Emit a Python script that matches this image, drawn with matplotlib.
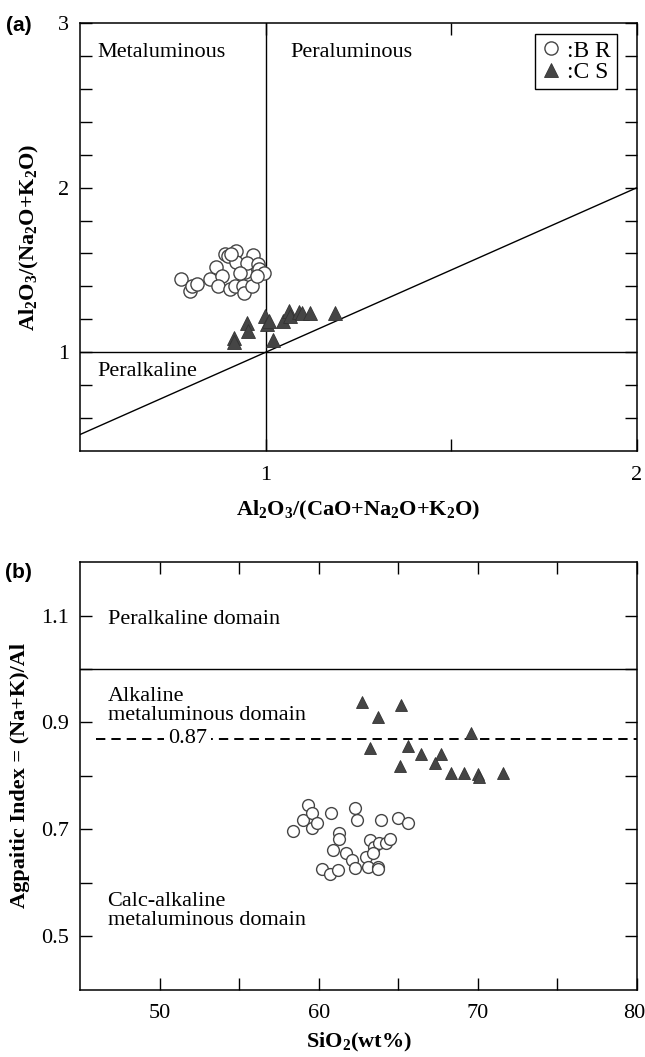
import numpy as np
import matplotlib
matplotlib.use("Agg")
import matplotlib.pyplot as plt
from matplotlib.ticker import FixedLocator
from matplotlib.transforms import ScaledTranslation

plt.rcParams["font.family"] = "Liberation Serif"
plt.rcParams["mathtext.fontset"] = "custom"
plt.rcParams["mathtext.rm"] = "Liberation Serif"
plt.rcParams["mathtext.bf"] = "Liberation Serif:bold"

# ------------------------------------------------------------
# (a) A/CNK vs A/NK
# ------------------------------------------------------------
br_acnk = [0.771, 0.796, 0.801, 0.814, 0.850, 0.866, 0.882, 0.872, 0.891, 0.899,
           0.920, 0.920, 0.904, 0.917, 0.940, 0.942, 0.962, 0.965, 0.944, 0.949,
           0.980, 0.983, 0.996, 0.976, 0.908, 0.931]
br_ank = [1.443, 1.372, 1.403, 1.413, 1.443, 1.515, 1.464, 1.403, 1.595, 1.585,
          1.615, 1.551, 1.383, 1.403, 1.403, 1.363, 1.403, 1.589, 1.488, 1.545,
          1.535, 1.504, 1.484, 1.464, 1.595, 1.484]

cs_acnk = [0.916, 0.916, 0.949, 0.953, 0.998, 1.003, 1.019, 1.046, 1.064, 1.066,
           1.091, 1.097, 1.119, 1.187, 1.010]
cs_ank = [1.089, 1.063, 1.176, 1.129, 1.221, 1.170, 1.075, 1.190, 1.251, 1.221,
          1.245, 1.241, 1.241, 1.241, 1.190]

# ------------------------------------------------------------
# (b) SiO2 vs agpaitic index
# ------------------------------------------------------------
br_sio2 = [58.4, 59.0, 59.3, 59.6, 59.6, 59.9, 60.8, 61.3, 61.3, 60.9,
           61.7, 62.1, 62.3, 60.2, 60.7, 61.2, 62.3, 62.4, 63.2, 63.0,
           63.1, 63.5, 63.8, 64.2, 64.5, 63.7, 63.9, 65.0, 65.6, 63.4, 63.7]
br_ai = [0.698, 0.718, 0.745, 0.731, 0.703, 0.713, 0.730, 0.694, 0.683, 0.662,
         0.656, 0.643, 0.628, 0.626, 0.617, 0.625, 0.741, 0.717, 0.680, 0.649,
         0.630, 0.667, 0.674, 0.674, 0.683, 0.630, 0.718, 0.721, 0.712, 0.656, 0.627]

cs_sio2 = [62.7, 63.7, 65.2, 69.6, 63.2, 65.6, 66.4, 67.7, 65.1, 67.3,
           68.3, 69.1, 70.0, 70.1, 71.6]
cs_ai = [0.938, 0.910, 0.933, 0.881, 0.852, 0.856, 0.842, 0.842, 0.819, 0.824,
         0.805, 0.805, 0.804, 0.799, 0.805]

ai_limit = 0.87

fs = 16
dark = "#454545"
circ = dict(ls="none", marker="o", mfc="white", mec=dark, mew=1.0)
tri = dict(ls="none", marker="^", mfc=dark, mec="#333333", mew=0.6)

fig = plt.figure(figsize=(6.45, 10.57), dpi=100)
ax1 = fig.add_axes([0.124, 0.5733, 0.8636, 0.4049])
ax2 = fig.add_axes([0.124, 0.0634, 0.8636, 0.4049])

for ax in (ax1, ax2):
    for s in ax.spines.values():
        s.set_linewidth(1.1)
    ax.tick_params(which="both", direction="in", length=8.5, width=1.0,
                   top=True, right=True, labelsize=fs, pad=8)

# ---------------- panel a ----------------
ax1.set_xlim(0.5, 2.0)
ax1.set_ylim(0.4, 3.0)
ax1.xaxis.set_major_locator(FixedLocator([1, 2]))
ax1.xaxis.set_minor_locator(FixedLocator([1.5]))
ax1.yaxis.set_major_locator(FixedLocator([1, 2, 3]))
ax1.yaxis.set_minor_locator(FixedLocator(
    [0.6, 0.8, 1.2, 1.4, 1.6, 1.8, 2.2, 2.4, 2.6, 2.8]))
ax1.set_xticklabels(["1", "2"])
ax1.set_yticklabels(["1", "2", "3"])
ax1.tick_params(axis="x", pad=11)

ax1.axvline(1.0, color="black", lw=1.0)
ax1.axhline(1.0, color="black", lw=1.0)
ax1.plot([0.5, 2.0], [0.5, 2.0], color="black", lw=1.0)

ax1.plot(br_acnk, br_ank, ms=9.5, label=":B R", **circ)
ax1.plot(cs_acnk, cs_ank, ms=9.5, label=":C S", **tri)

ax1.text(0.546, 2.82, "Metaluminous", fontsize=fs, va="center")
ax1.text(1.066, 2.82, "Peraluminous", fontsize=fs, va="center")
ax1.text(0.546, 0.885, "Peralkaline", fontsize=fs, va="center")

leg = ax1.legend(loc="upper right", bbox_to_anchor=(0.964, 0.974),
                 fontsize=17, fancybox=False, edgecolor="black", framealpha=1,
                 handlelength=0.8, handletextpad=0.3, borderpad=0.25,
                 labelspacing=0.0, borderaxespad=0)
leg.get_frame().set_linewidth(1.0)

ax1.set_xlabel(r"$\mathbf{Al_2O_3/(CaO{+}Na_2O{+}K_2O)}$", fontsize=fs,
               labelpad=10)
ax1.set_ylabel(r"$\mathbf{Al_2O_3/(Na_2O{+}K_2O)}$", fontsize=fs, labelpad=12)
ax1.text(-0.11, 0.995, "(a)", transform=ax1.transAxes, fontsize=15,
         fontweight="bold", family="Liberation Sans", ha="center", va="center")

# ---------------- panel b ----------------
ax2.set_xlim(45, 80)
ax2.set_ylim(0.4, 1.2)
ax2.xaxis.set_major_locator(FixedLocator([50, 60, 70, 80]))
ax2.xaxis.set_minor_locator(FixedLocator([55, 65, 75]))
ax2.yaxis.set_major_locator(FixedLocator([0.5, 0.7, 0.9, 1.1]))
ax2.yaxis.set_minor_locator(FixedLocator([0.6, 0.8, 1.0]))
ax2.set_xticklabels(["50", "60", "70", "80"])
ax2.set_yticklabels(["0.5", "0.7", "0.9", "1.1"])
ax2.tick_params(axis="x", pad=10)

# keep the last x label inside the figure edge
last = ax2.get_xticklabels()[-1]
last.set_horizontalalignment("right")
last.set_transform(last.get_transform()
                   + ScaledTranslation(6 / 72, 0, fig.dpi_scale_trans))

ax2.axhline(1.0, color="black", lw=1.0)
ax2.plot([46.0, 80.0], [ai_limit, ai_limit], color="black", lw=1.4,
         dashes=(4.8, 3.1))
ax2.text(51.75, ai_limit, f"{ai_limit:.2f}", fontsize=fs, ha="center",
         va="center", bbox=dict(facecolor="white", edgecolor="none", pad=3.0))

ax2.plot(br_sio2, br_ai, ms=8.5, **circ)
ax2.plot(cs_sio2, cs_ai, ms=9, **tri)

ax2.text(46.73, 1.092, "Peralkaline domain", fontsize=fs, va="center")
ax2.text(46.73, 0.931, "Alkaline\nmetaluminous domain", fontsize=fs,
         va="center", linespacing=1.0)
ax2.text(46.73, 0.548, "Calc-alkaline\nmetaluminous domain", fontsize=fs,
         va="center", linespacing=1.0)

ax2.set_xlabel(r"$\mathbf{SiO_2(wt\%)}$", fontsize=fs, labelpad=6)
ax2.set_ylabel("Agpaitic Index = (Na+K)/Al", fontsize=fs, fontweight="bold",
               labelpad=8)
ax2.text(-0.11, 0.975, "(b)", transform=ax2.transAxes, fontsize=15,
         fontweight="bold", family="Liberation Sans", ha="center", va="center")

fig.savefig("out.png", dpi=100)
